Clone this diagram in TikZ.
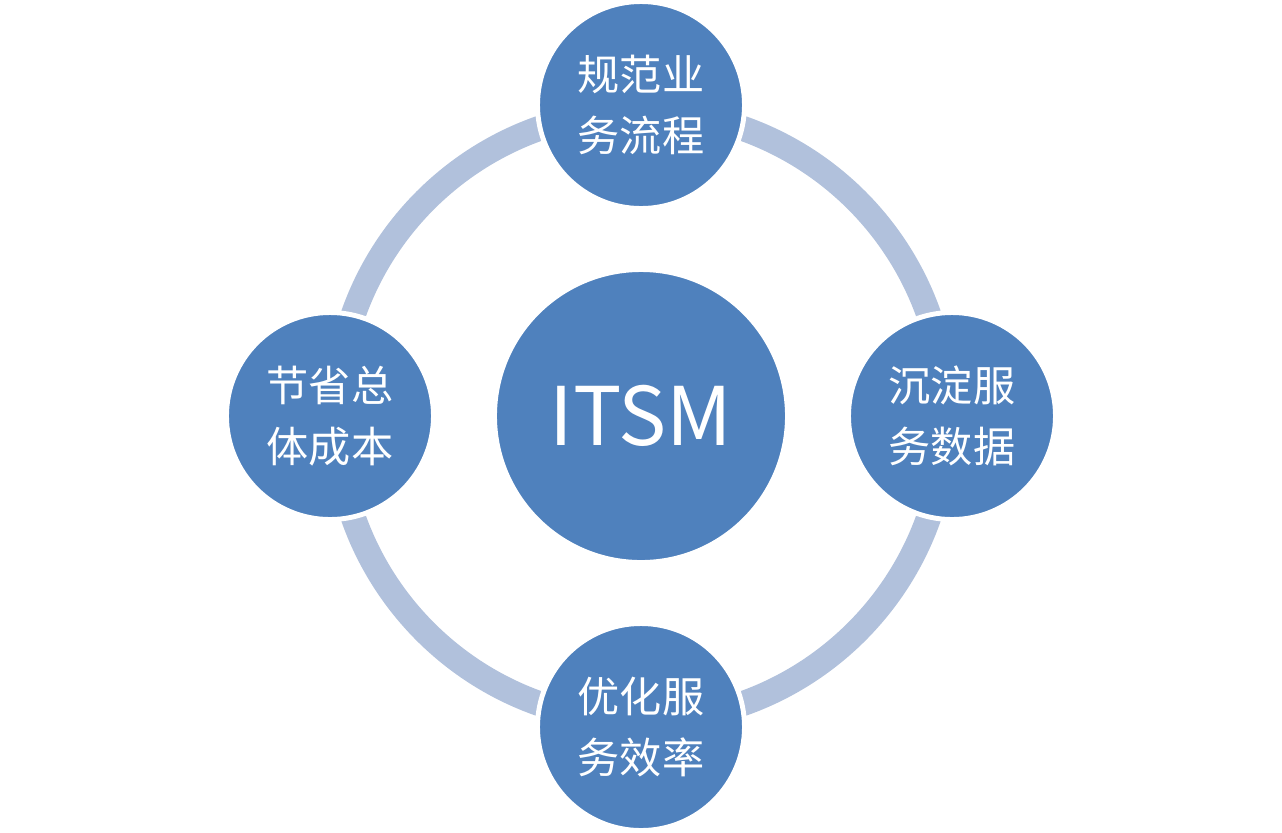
\documentclass[tikz,border=0pt]{standalone}
\usepackage{fontspec}
\setmainfont{Noto Sans CJK SC}
\usepackage{xcolor}
\usetikzlibrary{positioning}
\definecolor{itblue}{HTML}{4F81BD}
\definecolor{ringblue}{HTML}{B1C1DC}
\tikzset{
  hub/.style={circle, fill=itblue, draw=white, line width=2.8pt, minimum size=5.86cm, inner sep=0pt, text=white, font=\fontsize{46}{50}\selectfont},
  goal/.style={circle, fill=itblue, draw=white, line width=2.8pt, minimum size=4.14cm, inner sep=0pt, text=white, align=center, font=\fontsize{24}{35}\selectfont}
}

\begin{document}
\begin{tikzpicture}
    \useasboundingbox (-12.82,-8.32) rectangle (12.82,8.32);

    % 外环
    \draw[ringblue, line width=0.5cm] (0,0) circle (6.1);

    % 中心
    \node[hub] (itsm) at (0,0) {ITSM};

    % 四个目标
    \node[goal] (flow) at (0,6.22) {规范业\\务流程};
    \node[goal] (data) at (6.22,0) {沉淀服\\务数据};
    \node[goal] (eff) at (0,-6.22) {优化服\\务效率};
    \node[goal] (cost) at (-6.22,0) {节省总\\体成本};
\end{tikzpicture}
\end{document}
